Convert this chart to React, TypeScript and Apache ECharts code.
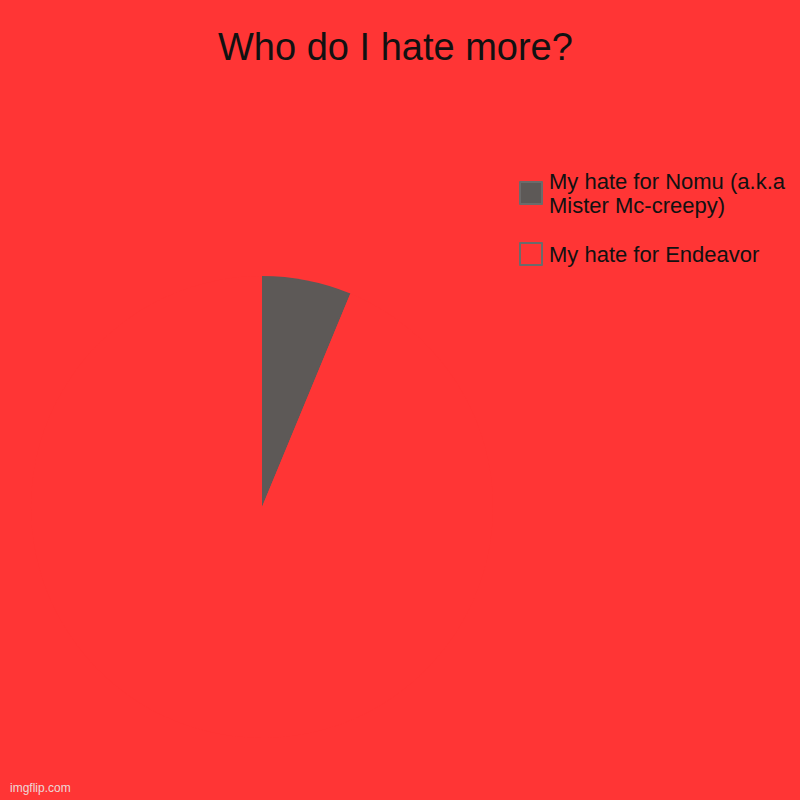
import React, { useEffect, useRef } from "react";
import * as echarts from "echarts";

const categories = ["My hate for Nomu (a.k.a\nMister Mc-creepy)", "My hate for Endeavor"];
const values = [1, 15];
const colors = ["#5d5957", "#ff3535"];
const titleText = "Who do I hate more?";
const watermark = "imgflip.com";

export default function App() {
  const ref = useRef<HTMLDivElement>(null);
  useEffect(() => {
    if (!ref.current) return;
    const chart = echarts.init(ref.current, undefined, { renderer: "svg" });
    const baseText = {
      fontFamily: "Liberation Sans",
      fontSize: 22,
      lineHeight: 24,
      color: "#111",
    };
    chart.setOption({
      animation: false,
      backgroundColor: "#ff3535",
      title: {
        text: titleText,
        left: 213,
        top: 23,
        textStyle: {
          fontFamily: "Liberation Sans",
          fontSize: 38,
          fontWeight: "normal",
          color: "#111",
        },
      },
      legend: {
        orient: "vertical",
        left: 519,
        top: 157,
        padding: 0,
        itemWidth: 22,
        itemHeight: 22,
        itemGap: 13,
        icon: "rect",
        selectedMode: false,
        itemStyle: { borderColor: "#6b6b6b", borderWidth: 2 },
        textStyle: baseText,
        data: categories.map((name, i) => ({
          name,
          textStyle: { ...baseText, padding: i === 0 ? [24, 0, 0, 2] : [0, 0, 0, 2] },
        })),
      },
      graphic: [
        {
          type: "text",
          left: 10,
          bottom: 6,
          style: {
            text: watermark,
            fontFamily: "Liberation Sans",
            fontSize: 12,
            fill: "rgba(235,235,235,0.9)",
          },
        },
      ],
      series: [
        {
          type: "pie",
          center: [262, 507],
          radius: [0, 231],
          startAngle: 90,
          clockwise: true,
          label: { show: false },
          labelLine: { show: false },
          emphasis: { disabled: true },
          data: categories.map((name, i) => ({
            name,
            value: values[i],
            itemStyle: { color: colors[i] },
          })),
        },
      ],
    });
    return () => chart.dispose();
  }, []);
  return (
    <div
      ref={ref}
      style={{ position: "fixed", left: 0, top: 0, width: 800, height: 800 }}
    />
  );
}
